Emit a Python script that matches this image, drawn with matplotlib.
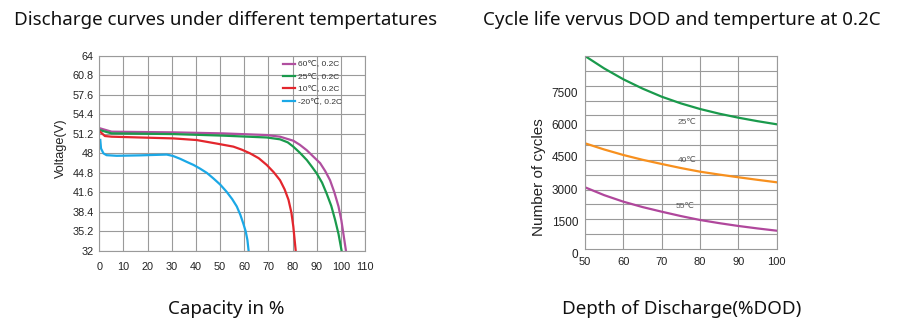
import numpy as np
import matplotlib
matplotlib.use("Agg")
import matplotlib.pyplot as plt

# discharge curves: capacity (%) vs voltage (V)
cap_60 = [0.3, 5.1, 30.6, 51.3, 69.3, 74.8, 80.3, 83.0, 85.9, 88.5, 91.4, 93.5, 95.5, 97.3, 99.0, 100.2, 101.0, 102.1]
volt_60 = [52.1, 51.55, 51.44, 51.27, 51.0, 50.73, 50.07, 49.4, 48.5, 47.5, 46.4, 45.1, 43.6, 41.6, 39.3, 37.0, 34.9, 32.0]
cap_25 = [0.3, 5.1, 30.6, 51.3, 69.3, 74.8, 78.0, 80.3, 83.0, 85.9, 88.0, 90.0, 92.2, 94.1, 96.0, 97.6, 99.0, 100.3]
volt_25 = [51.8, 51.27, 51.16, 50.9, 50.6, 50.3, 49.8, 49.1, 48.1, 46.9, 45.8, 44.7, 43.2, 41.4, 39.4, 37.1, 34.8, 32.0]
cap_10 = [0.3, 2.3, 5.1, 16.8, 30.6, 40.3, 48.6, 55.5, 59.0, 62.4, 66.0, 69.3, 72.2, 74.8, 76.7, 78.3, 79.5, 80.3, 81.3]
volt_10 = [51.55, 50.84, 50.73, 50.6, 50.45, 50.18, 49.6, 49.1, 48.6, 48.0, 47.2, 46.1, 44.9, 43.6, 42.1, 40.4, 38.3, 36.0, 32.0]
cap_m20 = [0.4, 0.7, 1.7, 3.0, 7.2, 16.8, 27.9, 30.6, 33.5, 36.2, 39.0, 41.7, 44.5, 47.2, 50.0, 52.7, 55.0, 56.9, 58.4, 59.6, 60.6, 61.3, 61.8]
volt_m20 = [50.2, 48.8, 48.0, 47.7, 47.6, 47.67, 47.8, 47.56, 47.1, 46.6, 46.1, 45.5, 44.8, 43.9, 42.9, 41.7, 40.5, 39.3, 37.9, 36.5, 35.2, 33.8, 32.0]

discharge_labels = ["60℃, 0.2C", "25℃, 0.2C", "10℃, 0.2C", "-20℃, 0.2C"]

# cycle life: depth of discharge (%) vs number of cycles
dod = [50, 55, 60, 65, 70, 75, 80, 85, 90, 95, 100]
cycles_25 = [9000, 8420, 7913, 7480, 7102, 6790, 6528, 6310, 6123, 5960, 5815]
cycles_40 = [4929, 4640, 4383, 4160, 3964, 3775, 3605, 3470, 3344, 3225, 3110]
cycles_55 = [2877, 2510, 2206, 1955, 1739, 1535, 1352, 1205, 1073, 958, 853]

x_ticks_left = [0, 10, 20, 30, 40, 50, 60, 70, 80, 90, 100, 110]
y_ticks_left = [32, 35.2, 38.4, 41.6, 44.8, 48, 51.2, 54.4, 57.6, 60.8, 64]
y_tick_text_left = ["32", "35.2", "38.4", "41.6", "44.8", "48", "51.2", "54.4", "57.6", "60.8", "64"]
x_ticks_right = [50, 60, 70, 80, 90, 100]
y_ticks_right = [0, 1500, 3000, 4500, 6000, 7500]

small = ["Liberation Sans", "DejaVu Sans"]
head_font = "Noto Sans"
grid_col = "#9a9a9a"

fig = plt.figure(figsize=(9.07, 3.30), dpi=100)
fig.patch.set_facecolor("white")

# ---- left: discharge curves ----
ax1 = fig.add_axes([0.1095, 0.2394, 0.293, 0.5918])
ax1.plot(cap_60, volt_60, color="#b04f9f", lw=1.6, label=discharge_labels[0])
ax1.plot(cap_25, volt_25, color="#1a9a4c", lw=1.6, label=discharge_labels[1])
ax1.plot(cap_10, volt_10, color="#e3262d", lw=1.6, label=discharge_labels[2])
ax1.plot(cap_m20, volt_m20, color="#1ba8e6", lw=1.6, label=discharge_labels[3])
ax1.set_xlim(0, 110)
ax1.set_ylim(32, 64)
ax1.set_xticks(x_ticks_left)
ax1.set_yticks(y_ticks_left)
ax1.set_yticklabels(y_tick_text_left)
ax1.grid(True, color=grid_col, lw=0.8)
ax1.tick_params(length=0, labelsize=7.8)
ax1.tick_params(axis="x", pad=8)
ax1.tick_params(axis="y", pad=4)
for lab in ax1.get_xticklabels() + ax1.get_yticklabels():
    lab.set_family(small)
    lab.set_color("#222222")
for sp in ax1.spines.values():
    sp.set_color(grid_col)
    sp.set_linewidth(0.8)
leg = ax1.legend(loc="upper left", bbox_to_anchor=(0.672, 1.0), frameon=False,
                 prop={"family": small, "size": 6}, handlelength=1.4,
                 handletextpad=0.4, labelspacing=0.55, borderaxespad=0.2)
for t in leg.get_texts():
    t.set_color("#333333")
fig.text(61 / 907, 1 - 148.5 / 330, "Voltage(V)", rotation=90, ha="center", va="center",
         family=small, fontsize=9.2, color="#222222")

# ---- right: cycle life ----
ax2 = fig.add_axes([0.645, 0.2455, 0.2114, 0.5848])
ax2.plot(dod, cycles_25, color="#1a9a4c", lw=1.6)
ax2.plot(dod, cycles_40, color="#f7901e", lw=1.6)
ax2.plot(dod, cycles_55, color="#b0479c", lw=1.6)
ax2.set_xlim(50, 100)
ax2.set_ylim(0, 9000)
ax2.set_xticks(x_ticks_right)
ax2.set_yticks(y_ticks_right)
ax2.set_yticks(np.linspace(0, 9000, 14), minor=True)
ax2.grid(False)
ax2.grid(True, which="minor", axis="y", color=grid_col, lw=0.8)
ax2.grid(True, which="major", axis="x", color=grid_col, lw=0.8)
ax2.tick_params(which="both", length=0)
ax2.tick_params(axis="x", labelsize=8, pad=6)
ax2.tick_params(axis="y", labelsize=8.5, pad=5)
for lab in ax2.get_xticklabels() + ax2.get_yticklabels():
    lab.set_family(small)
    lab.set_color("#222222")
for lab in ax2.get_yticklabels():
    lab.set_verticalalignment("top")
for sp in ax2.spines.values():
    sp.set_color(grid_col)
    sp.set_linewidth(0.8)
ax2.text(76.6, 5890, "25℃", fontsize=6, family=small, color="#555555", ha="center", va="center")
ax2.text(76.6, 4104, "40℃", fontsize=6, family=small, color="#555555", ha="center", va="center")
ax2.text(76.1, 1959, "55℃", fontsize=6, family=small, color="#555555", ha="center", va="center")
fig.text(539 / 907, 1 - 177.5 / 330, "Number of cycles", rotation=90, ha="center", va="center",
         family=small, fontsize=11, color="#222222")

# ---- titles and captions ----
fig.text(226 / 907, 1 - 25 / 330, "Discharge curves under different tempertatures",
         ha="center", va="baseline", family=head_font, fontsize=13.5, color="#111111")
fig.text(682 / 907, 1 - 25 / 330, "Cycle life vervus DOD and temperture at 0.2C",
         ha="center", va="baseline", family=head_font, fontsize=13.5, color="#111111")
fig.text(226 / 907, 1 - 314 / 330, "Capacity in %",
         ha="center", va="baseline", family=head_font, fontsize=13.5, color="#111111")
fig.text(682 / 907, 1 - 314 / 330, "Depth of Discharge(%DOD)",
         ha="center", va="baseline", family=head_font, fontsize=13.5, color="#111111")

fig.savefig("out.png", dpi=100, facecolor="white")
